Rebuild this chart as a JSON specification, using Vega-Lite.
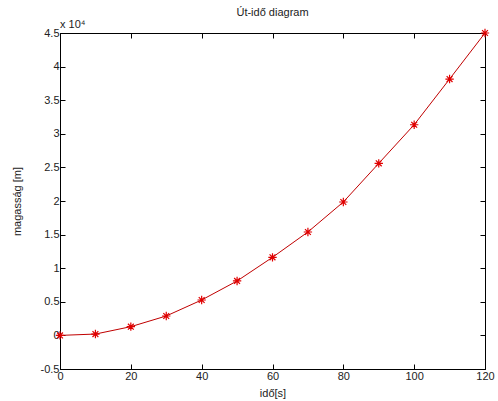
{
  "$schema": "https://vega.github.io/schema/vega-lite/v6.json",
  "width": 425,
  "height": 336,
  "autosize": "none",
  "padding": {"left": 60, "top": 33, "right": 13, "bottom": 32},
  "background": "white",
  "config": {
    "font": "Liberation Sans",
    "view": {"stroke": "black", "strokeWidth": 1},
    "axis": {"grid": false, "domainColor": "black", "tickColor": "black", "labelColor": "#222", "labelFontSize": 11, "titleFontSize": 11, "titleFontWeight": "normal", "titleColor": "#222", "tickSize": -5, "labelPadding": 6, "labelOverlap": false}
  },
  "title": {"text": "Út-idő diagram", "fontSize": 11, "fontWeight": "normal", "color": "#222", "offset": 1},
  "data": {"values": [
    {"t": 0, "h": 0},
    {"t": 10, "h": 200},
    {"t": 20, "h": 1300},
    {"t": 30, "h": 2890},
    {"t": 40, "h": 5270},
    {"t": 50, "h": 8100},
    {"t": 60, "h": 11620},
    {"t": 70, "h": 15390},
    {"t": 80, "h": 19850},
    {"t": 90, "h": 25600},
    {"t": 100, "h": 31350},
    {"t": 110, "h": 38150},
    {"t": 120, "h": 45000}
  ]},
  "encoding": {
    "x": {"field": "t", "type": "quantitative", "scale": {"domain": [0, 120], "nice": false, "zero": false}},
    "y": {"field": "h", "type": "quantitative", "scale": {"domain": [-5000, 45000], "nice": false, "zero": false}}
  },
  "layer": [
    {
      "mark": {"type": "line", "color": "#c00000", "strokeWidth": 1},
      "encoding": {
        "x": {"field": "t", "type": "quantitative", "axis": {"orient": "bottom", "values": [0, 20, 40, 60, 80, 100, 120], "title": "idő[s]", "titlePadding": 6, "labelFlush": false}},
        "y": {"field": "h", "type": "quantitative", "axis": {"orient": "left", "values": [-5000, 0, 5000, 10000, 15000, 20000, 25000, 30000, 35000, 40000, 45000], "labelExpr": "toString(datum.value/10000)", "title": "magasság [m]", "titlePadding": 18, "labelFlush": false}}
      }
    },
    {
      "mark": {"type": "point", "shape": "M0,-1L0,1M-1,0L1,0M-0.7,-0.7L0.7,0.7M-0.7,0.7L0.7,-0.7", "filled": false, "color": "#e00000", "strokeWidth": 1.2, "size": 70, "opacity": 1},
      "encoding": {
        "x": {"field": "t", "type": "quantitative", "axis": null},
        "y": {"field": "h", "type": "quantitative", "axis": null}
      }
    },
    {
      "mark": {"type": "point", "opacity": 0},
      "encoding": {
        "x": {"field": "t", "type": "quantitative", "axis": {"orient": "top", "values": [0, 20, 40, 60, 80, 100, 120], "labels": false, "title": null}},
        "y": {"field": "h", "type": "quantitative", "axis": {"orient": "right", "values": [-5000, 0, 5000, 10000, 15000, 20000, 25000, 30000, 35000, 40000, 45000], "labels": false, "title": null}}
      }
    },
    {
      "transform": [{"filter": "datum.t === 0"}],
      "mark": {"type": "text", "align": "left", "baseline": "bottom", "dx": 0, "dy": -3, "fontSize": 11, "color": "#222"},
      "encoding": {
        "x": {"datum": 0, "axis": null},
        "y": {"datum": 45000, "axis": null},
        "text": {"value": "x 10⁴"}
      }
    }
  ],
  "resolve": {"axis": {"x": "independent", "y": "independent"}}
}
